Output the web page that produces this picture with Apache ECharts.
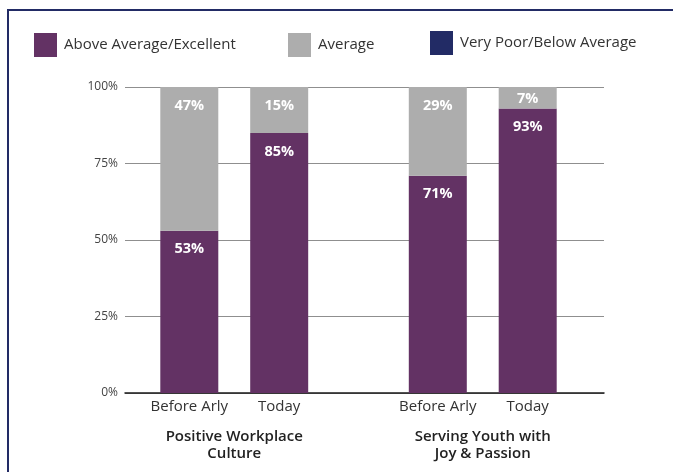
<!DOCTYPE html>
<html>
<head>
<meta charset="utf-8">
<script src="https://cdn.jsdelivr.net/npm/echarts@6/dist/echarts.min.js"></script>
<style>
html,body{margin:0;padding:0;background:#fff;}
#chart{width:673px;height:472px;}
</style>
</head>
<body>
<div id="chart"></div>
<script>
// ---- data ----
var groups = ['Positive Workplace\nCulture', 'Serving Youth with\nJoy & Passion'];
var periods = ['Before Arly', 'Today'];
var seriesNames = ['Above Average/Excellent', 'Average', 'Very Poor/Below Average'];
var aboveBefore = [53, 71];
var averageBefore = [47, 29];
var poorBefore = [0, 0];
var aboveToday = [85, 93];
var averageToday = [15, 7];
var poorToday = [0, 0];
var yTicks = [0, 25, 50, 75, 100];

// ---- styles ----
var PURPLE = '#633264';
var GRAY = '#adadad';
var NAVY = '#222b65';
var FONT = 'Open Sans';

function valueLabel(vals) {
  return vals.map(function (v) {
    var item = { value: v };
    if (v < 10) item.label = { position: 'inside', offset: [0, 1] };
    return item;
  });
}

var dataLabel = {
  show: true,
  position: 'insideTop',
  distance: 11,
  color: '#ffffff',
  fontFamily: FONT,
  fontWeight: 'bold',
  fontSize: 14.5,
  formatter: '{c}%'
};

function periodLabel(idx) {
  return {
    show: true,
    position: 'bottom',
    distance: 6,
    color: '#333',
    fontFamily: FONT,
    fontSize: 15,
    formatter: function () { return periods[idx]; }
  };
}

var barW = 58;
var stacks = ['before', 'today'];
var stackData = [
  { poor: poorBefore, above: aboveBefore, avg: averageBefore },
  { poor: poorToday, above: aboveToday, avg: averageToday }
];

var series = [];
stacks.forEach(function (st, i) {
  var d = stackData[i];
  series.push({
    name: seriesNames[2], type: 'bar', stack: st, xAxisIndex: 0, yAxisIndex: 0,
    barWidth: barW, barGap: '55%', itemStyle: { color: NAVY },
    label: periodLabel(i), data: d.poor
  });
  series.push({
    name: seriesNames[0], type: 'bar', stack: st, xAxisIndex: 0, yAxisIndex: 0,
    barWidth: barW, barGap: '55%', itemStyle: { color: PURPLE },
    label: dataLabel, data: valueLabel(d.above)
  });
  series.push({
    name: seriesNames[1], type: 'bar', stack: st, xAxisIndex: 0, yAxisIndex: 0,
    barWidth: barW, barGap: '55%', itemStyle: { color: GRAY },
    label: dataLabel, data: valueLabel(d.avg)
  });
});

function legendAt(name, left, top) {
  return {
    data: [name], left: left, top: top, icon: 'rect',
    itemWidth: 23, itemHeight: 24, padding: 0, itemGap: 0,
    textStyle: { fontFamily: FONT, fontSize: 15, color: '#333', padding: [0, 0, 0, 2] }
  };
}

var option = {
  animation: false,
  textStyle: { fontFamily: FONT },
  legend: [
    legendAt(seriesNames[0], 34, 33),
    legendAt(seriesNames[1], 288, 33),
    legendAt(seriesNames[2], 430, 31)
  ],
  graphic: [{
    type: 'rect', silent: true, z: -1,
    shape: { x: 8, y: 10, width: 700, height: 500 },
    style: { fill: 'none', stroke: NAVY, lineWidth: 2 }
  }],
  grid: [
    { left: 110, right: 66, top: 87, bottom: 79 },
    { left: 125, right: 69, top: 87, bottom: 79 }
  ],
  xAxis: [
    {
      gridIndex: 0, type: 'category', data: groups,
      axisLine: { show: false }, axisTick: { show: false },
      axisLabel: {
        margin: 35, color: '#222', fontFamily: FONT, fontSize: 15,
        fontWeight: 600, lineHeight: 17, interval: 0
      }
    },
    {
      gridIndex: 1, type: 'category', data: groups,
      axisLine: { show: true, lineStyle: { color: '#1a1a1a', width: 1.5 } },
      axisTick: { show: false }, axisLabel: { show: false }
    }
  ],
  yAxis: [
    {
      gridIndex: 0, type: 'value', min: 0, max: 100, interval: 25,
      show: false, splitLine: { show: false }
    },
    {
      gridIndex: 1, type: 'value', min: 0, max: 100, interval: 25,
      axisLine: { show: false }, axisTick: { show: false },
      splitLine: { show: true, lineStyle: { color: '#8f8f8f', width: 1 } },
      axisLabel: {
        margin: 7, color: '#444', fontFamily: FONT, fontSize: 12,
        formatter: function (v) { return yTicks.indexOf(v) >= 0 ? v + '%' : ''; }
      }
    }
  ],
  series: series
};

var chart = echarts.init(document.getElementById('chart'), null, { renderer: 'canvas' });
chart.setOption(option);
</script>
</body>
</html>
